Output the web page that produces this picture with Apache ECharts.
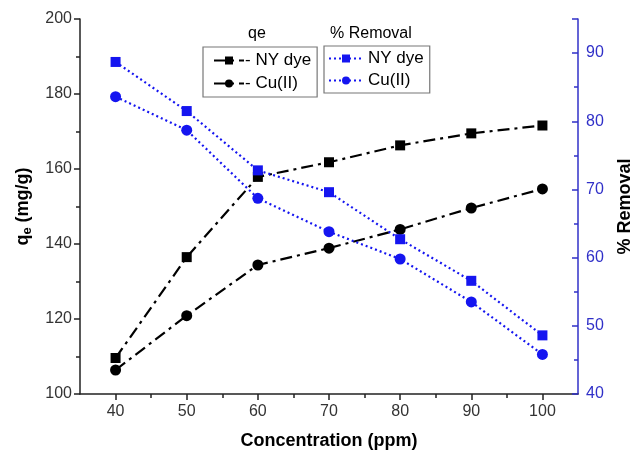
<!DOCTYPE html>
<html>
<head>
<meta charset="utf-8">
<script src="https://cdn.jsdelivr.net/npm/echarts@6/dist/echarts.min.js"></script>
<style>html,body{margin:0;padding:0;background:#fff}#c{width:642px;height:457px}</style>
</head>
<body>
<div id="c"></div>
<script>
var concentration = [40, 50, 60, 70, 80, 90, 100];
var qeNY = [109.6, 136.5, 157.9, 161.8, 166.3, 169.5, 171.6];
var qeCu = [106.4, 120.9, 134.4, 138.9, 143.9, 149.6, 154.7];
var remNY = [88.7, 81.5, 72.8, 69.6, 62.7, 56.6, 48.6];
var remCu = [83.6, 78.7, 68.7, 63.8, 59.8, 53.5, 45.8];
var xTickLabels = [40, 50, 60, 70, 80, 90, 100];
var xMinorTicks = [45, 55, 65, 75, 85, 95];

function pairs(xs, ys) { return xs.map(function (x, i) { return [x, ys[i]]; }); }

var FONT = 'Liberation Sans';
var BLUE = '#1515f0';
var AXBLUE = '#3030c8';
var dashDot = [12, 5, 3, 5];

var chart = echarts.init(document.getElementById('c'));
chart.setOption({
  animation: false,
  textStyle: { fontFamily: FONT },
  grid: { left: 80, right: 58, top: 19, bottom: 63 },
  xAxis: [{
    type: 'value', min: 35, max: 105,
    name: 'Concentration (ppm)', nameLocation: 'middle', nameGap: 38,
    nameTextStyle: { fontFamily: FONT, fontWeight: 'bold', fontSize: 18, color: '#000' },
    axisLine: { lineStyle: { color: '#222', width: 1.5 } },
    axisTick: { length: 6, lineStyle: { color: '#222', width: 1.5 }, customValues: xTickLabels },
    axisLabel: { fontSize: 16, color: '#333', margin: 10, customValues: xTickLabels },
    splitLine: { show: false }
  }, {
    type: 'value', min: 35, max: 105, position: 'bottom', gridIndex: 0,
    axisLine: { show: false },
    axisTick: { length: 4, lineStyle: { color: '#222', width: 1.5 }, customValues: xMinorTicks },
    axisLabel: { show: false },
    splitLine: { show: false }
  }],
  yAxis: [{
    type: 'value', min: 100, max: 200, interval: 20,
    name: '{q|q}{e|e}{q| (mg/g)}', nameLocation: 'middle', nameGap: 42, nameRotate: 90,
    nameTextStyle: { rich: {
      q: { fontFamily: FONT, fontWeight: 'bold', fontSize: 18, color: '#000' },
      e: { fontFamily: FONT, fontWeight: 'bold', fontSize: 13, color: '#000', verticalAlign: 'bottom', padding: [9, 0, 0, 0] }
    } },
    axisLine: { show: true, lineStyle: { color: '#222', width: 1.5 } },
    axisTick: { show: true, length: 6, lineStyle: { color: '#222', width: 1.5 } },
    minorTick: { show: true, splitNumber: 2, length: 4, lineStyle: { color: '#222', width: 1.5 } },
    axisLabel: { fontSize: 16, color: '#333', margin: 8 },
    splitLine: { show: false }
  }, {
    type: 'value', min: 40, max: 95, interval: 10, position: 'right',
    name: '% Removal', nameLocation: 'middle', nameGap: 38, nameRotate: 90,
    nameTextStyle: { fontFamily: FONT, fontWeight: 'bold', fontSize: 18, color: '#000' },
    axisLine: { show: true, lineStyle: { color: AXBLUE, width: 1.5 } },
    axisTick: { show: true, inside: true, length: 6, lineStyle: { color: AXBLUE, width: 1.5 } },
    minorTick: { show: true, splitNumber: 2, length: 4, lineStyle: { color: AXBLUE, width: 1.5 } },
    axisLabel: { fontSize: 16, color: AXBLUE, margin: 8, showMaxLabel: false },
    splitLine: { show: false }
  }],
  legend: [{
    orient: 'vertical', left: 203, top: 47,
    data: ['qe NY dye', 'qe Cu(II)'],
    formatter: function (n) { return '- ' + n.replace('qe ', ''); },
    borderColor: '#777', borderWidth: 1.2, padding: [5, 6, 5, 10], itemGap: 6,
    itemWidth: 30, itemHeight: 10,
    textStyle: { fontFamily: FONT, fontSize: 17, color: '#000', padding: [0, 0, 0, -4] }
  }, {
    orient: 'vertical', left: 324, top: 46,
    data: ['rem NY dye', 'rem Cu(II)'],
    formatter: function (n) { return n.replace('rem ', ''); },
    borderColor: '#777', borderWidth: 1.2, padding: [4, 6, 4, 4], itemGap: 5,
    itemWidth: 34, itemHeight: 10,
    textStyle: { fontFamily: FONT, fontSize: 17, color: '#000' }
  }],
  graphic: [
    { type: 'text', left: 248, top: 26, style: { text: 'qe', font: '16px ' + FONT, fill: '#000' } },
    { type: 'text', left: 330, top: 26, style: { text: '% Removal', font: '16px ' + FONT, fill: '#000' } }
  ],
  series: [{
    name: 'qe NY dye', type: 'line', xAxisIndex: 0, yAxisIndex: 0,
    data: pairs(concentration, qeNY), symbol: 'rect', symbolSize: 10,
    itemStyle: { color: '#000' }, lineStyle: { color: '#000', width: 2.2, type: dashDot }
  }, {
    name: 'qe Cu(II)', type: 'line', xAxisIndex: 0, yAxisIndex: 0,
    data: pairs(concentration, qeCu), symbol: 'circle', symbolSize: 11,
    itemStyle: { color: '#000' }, lineStyle: { color: '#000', width: 2.2, type: dashDot }
  }, {
    name: 'rem NY dye', type: 'line', xAxisIndex: 0, yAxisIndex: 1,
    data: pairs(concentration, remNY), symbol: 'rect', symbolSize: 10,
    itemStyle: { color: BLUE }, lineStyle: { color: BLUE, width: 2.2, type: [2, 3] }
  }, {
    name: 'rem Cu(II)', type: 'line', xAxisIndex: 0, yAxisIndex: 1,
    data: pairs(concentration, remCu), symbol: 'circle', symbolSize: 11,
    itemStyle: { color: BLUE }, lineStyle: { color: BLUE, width: 2.2, type: [2, 3] }
  }]
});
</script>
</body>
</html>
